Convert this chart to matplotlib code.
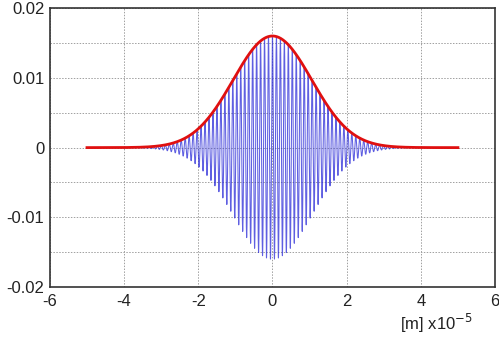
import numpy as np
import matplotlib
matplotlib.use('Agg')
import matplotlib.pyplot as plt
from matplotlib.ticker import MultipleLocator

plt.rcParams['font.family'] = ['Liberation Sans', 'DejaVu Sans']

# wave packet (x in units of 1e-5 m)
x_start, x_end = -5.0, 5.0
peak_amp = 0.016        # envelope height at x=0
width_sigma = 1.06      # gaussian width, x1e-5 m
period = 0.107          # carrier period, x1e-5 m

x_ticks = [-6, -4, -2, 0, 2, 4, 6]
y_ticks = [-0.02, -0.01, 0, 0.01, 0.02]
y_labels = ['-0.02', '-0.01', '0', '0.01', '0.02']

x = np.linspace(x_start, x_end, 20001)
env = peak_amp * np.exp(-x**2 / (2 * width_sigma**2))
wave = env * np.cos(2 * np.pi * x / period)

fig = plt.figure(figsize=(4.99, 3.37), dpi=100)
ax = fig.add_axes([0.100, 0.148, 0.892, 0.828])

ax.plot(x, wave, color='#2a2ad8', lw=0.75, alpha=0.75)
ax.plot(x, env, color='#e01010', lw=2.0)

ax.set_xlim(-6, 6)
ax.set_ylim(-0.02, 0.02)
ax.set_xticks(x_ticks)
ax.set_xticklabels([str(t) for t in x_ticks])
ax.set_yticks(y_ticks)
ax.set_yticklabels(y_labels)
ax.yaxis.set_minor_locator(MultipleLocator(0.005))
ax.grid(True, which='both', color='#a0a0a0', ls=(0, (1.5, 1.5)), lw=0.7)
ax.tick_params(which='both', length=0, labelsize=12, colors='#222222')
ax.tick_params(axis='x', pad=5)
ax.tick_params(axis='y', pad=4)
for s in ax.spines.values():
    s.set_color('#333333')
    s.set_linewidth(1.2)

fig.text(0.874, 0.040, r'[m] x10$^{-5}$', ha='center', va='center',
         fontsize=12, color='#222222')

fig.savefig('out.png', dpi=100)
